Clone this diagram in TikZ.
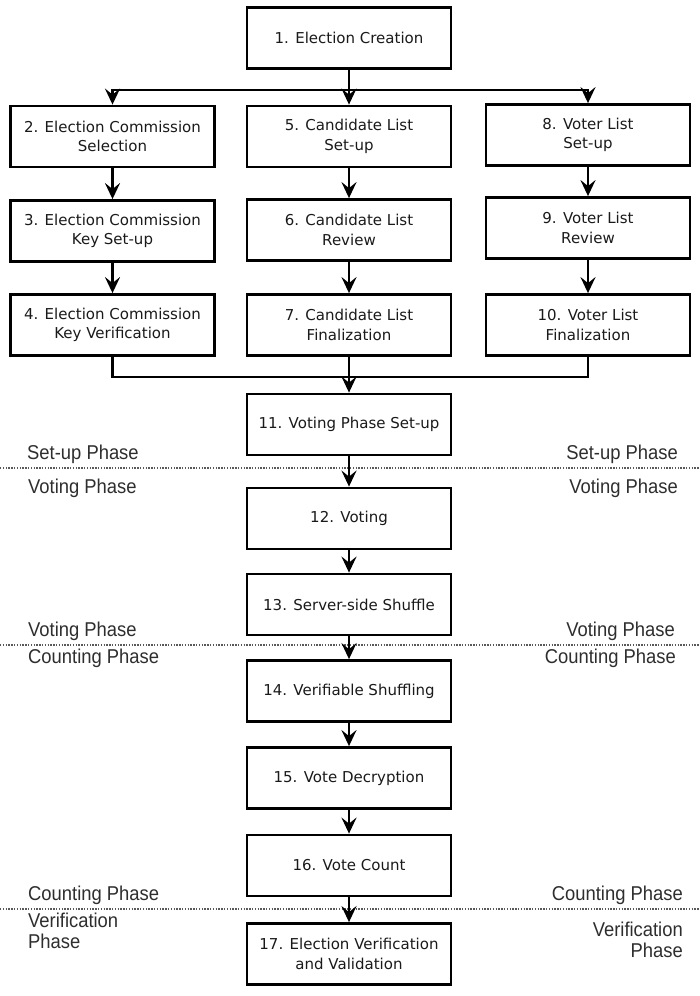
\documentclass[tikz,border=0pt]{standalone}
\usepackage{fontspec}
\setmainfont{DejaVu Sans}
\newfontfamily\phasefont[FakeStretch=0.92]{Liberation Sans}
\usetikzlibrary{arrows.meta}
\definecolor{phasegray}{HTML}{2E2E2E}
\definecolor{boxtext}{HTML}{1A1A1A}
\tikzset{
  x=1pt, y=-1pt,
  stepbox/.style={draw=black, line width=2.8pt, minimum width=204pt, minimum height=61pt,
    inner sep=0pt, align=center, text=boxtext, font=\fontsize{15}{19.5}\selectfont, fill=white},
  link/.style={line width=2.8pt, draw=black},
  arr/.style={link, -{Stealth[length=16pt,width=15pt,inset=6pt]}},
  sep/.style={draw=gray!70!black, line width=1.2pt, dash pattern=on 1.3pt off 1.5pt},
  phaseL/.style={anchor=west, align=left, text=phasegray, inner sep=0pt, font=\phasefont\fontsize{20}{21}\selectfont},
  phaseR/.style={anchor=east, align=right, text=phasegray, inner sep=0pt, font=\phasefont\fontsize{20}{21}\selectfont},
}
\begin{document}
\begin{tikzpicture}
\useasboundingbox (0,0) rectangle (700,996);
\fill[white] (0,0) rectangle (700,996);

% separators
\coordinate (s1a) at (0,468); \coordinate (s1b) at (700,468);
\coordinate (s2a) at (0,645); \coordinate (s2b) at (700,645);
\coordinate (s3a) at (0,909); \coordinate (s3b) at (700,909);
\draw[sep] (s1a) -- (s1b);
\draw[sep] (s2a) -- (s2b);
\draw[sep] (s3a) -- (s3b);

% boxes
\node[stepbox] (b1) at (349,38) {1. Election Creation};
\node[stepbox] (b2) at (112.5,136.5) {2. Election Commission\\Selection};
\node[stepbox] (b3) at (112.5,231) {3. Election Commission\\Key Set-up};
\node[stepbox] (b4) at (112.5,325) {4. Election Commission\\Key Verification};
\node[stepbox] (b5) at (349,136.5) {5. Candidate List\\Set-up};
\node[stepbox] (b6) at (349,230) {6. Candidate List\\Review};
\node[stepbox] (b7) at (349,325) {7. Candidate List\\Finalization};
\node[stepbox] (b8) at (588,135) {8. Voter List\\Set-up};
\node[stepbox] (b9) at (588,228) {9. Voter List\\Review};
\node[stepbox] (b10) at (588,325) {10. Voter List\\Finalization};
\node[stepbox] (b11) at (349,424.5) {11. Voting Phase Set-up};
\node[stepbox] (b12) at (349,518.5) {12. Voting};
\node[stepbox] (b13) at (349,604.5) {13. Server-side Shuffle};
\node[stepbox] (b14) at (349,691) {14. Verifiable Shuffling};
\node[stepbox] (b15) at (349,778) {15. Vote Decryption};
\node[stepbox] (b16) at (349,865.5) {16. Vote Count};
\node[stepbox] (b17) at (349,954) {17. Election Verification\\and Validation};

% split and merge
\coordinate (j1) at (349,90);
\coordinate (j2) at (349,377);
\draw[link] (b1) -- (j1);
\draw[arr] (j1) -| (b2);
\draw[arr] (j1) -- (b5);
\draw[arr] (j1) -| (b8);

\draw[arr] (b2) -- (b3);
\draw[arr] (b3) -- (b4);
\draw[arr] (b5) -- (b6);
\draw[arr] (b6) -- (b7);
\draw[arr] (b8) -- (b9);
\draw[arr] (b9) -- (b10);

\draw[link] (b4) |- (j2);
\draw[link] (b10) |- (j2);
\draw[link] (b7) -- (j2);
\draw[arr] (j2) -- (b11);

\draw[arr] (b11) -- (b12);
\draw[arr] (b12) -- (b13);
\draw[arr] (b13) -- (b14);
\draw[arr] (b14) -- (b15);
\draw[arr] (b15) -- (b16);
\draw[arr] (b16) -- (b17);

% phase labels
\node[phaseL] (l1) at (27,454) {Set-up Phase};
\node[phaseR] (r1) at (678,454) {Set-up Phase};
\node[phaseL] (l2) at (28,488) {Voting Phase};
\node[phaseR] (r2) at (678,488) {Voting Phase};
\node[phaseL] (l3) at (28,631) {Voting Phase};
\node[phaseR] (r3) at (675,631) {Voting Phase};
\node[phaseL] (l4) at (28,658) {Counting Phase};
\node[phaseR] (r4) at (676,658) {Counting Phase};
\node[phaseL] (l5) at (28,895) {Counting Phase};
\node[phaseR] (r5) at (683,895) {Counting Phase};
\node[phaseL] (l6) at (28,931) {Verification\\Phase};
\node[phaseR] (r6) at (683,940) {Verification\\Phase};
\end{tikzpicture}
\end{document}
